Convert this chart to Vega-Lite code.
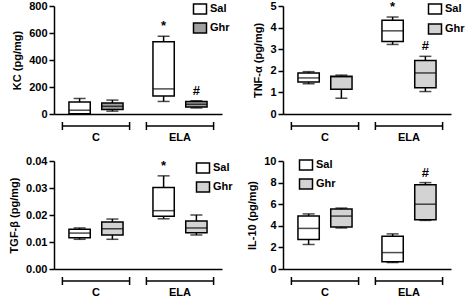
{
  "$schema": "https://vega.github.io/schema/vega-lite/v6.json",
  "background": "white",
  "padding": {"left": 8, "top": 0, "right": 0, "bottom": 0},
  "data": {"values": [
    {"panel": "KC", "group": "C", "treatment": "Sal", "min": 0, "q1": 2, "median": 28, "q3": 88, "max": 115, "sig": ""},
    {"panel": "KC", "group": "C", "treatment": "Ghr", "min": 21, "q1": 33, "median": 57, "q3": 81, "max": 103, "sig": ""},
    {"panel": "KC", "group": "ELA", "treatment": "Sal", "min": 93, "q1": 133, "median": 186, "q3": 536, "max": 576, "sig": "*"},
    {"panel": "KC", "group": "ELA", "treatment": "Ghr", "min": 45, "q1": 52, "median": 72, "q3": 92, "max": 98, "sig": "#"},
    {"panel": "TNF", "group": "C", "treatment": "Sal", "min": 1.4, "q1": 1.48, "median": 1.67, "q3": 1.9, "max": 1.96, "sig": ""},
    {"panel": "TNF", "group": "C", "treatment": "Ghr", "min": 0.73, "q1": 1.15, "median": 1.72, "q3": 1.75, "max": 1.8, "sig": ""},
    {"panel": "TNF", "group": "ELA", "treatment": "Sal", "min": 3.22, "q1": 3.36, "median": 3.85, "q3": 4.34, "max": 4.49, "sig": "*"},
    {"panel": "TNF", "group": "ELA", "treatment": "Ghr", "min": 1.04, "q1": 1.21, "median": 1.9, "q3": 2.48, "max": 2.67, "sig": "#"},
    {"panel": "TGF", "group": "C", "treatment": "Sal", "min": 0.011, "q1": 0.0116, "median": 0.0133, "q3": 0.0147, "max": 0.0152, "sig": ""},
    {"panel": "TGF", "group": "C", "treatment": "Ghr", "min": 0.011, "q1": 0.0126, "median": 0.0149, "q3": 0.0174, "max": 0.0185, "sig": ""},
    {"panel": "TGF", "group": "ELA", "treatment": "Sal", "min": 0.0186, "q1": 0.0195, "median": 0.0216, "q3": 0.0302, "max": 0.0345, "sig": "*"},
    {"panel": "TGF", "group": "ELA", "treatment": "Ghr", "min": 0.0126, "q1": 0.0134, "median": 0.0152, "q3": 0.0178, "max": 0.02, "sig": ""},
    {"panel": "IL10", "group": "C", "treatment": "Sal", "min": 2.27, "q1": 2.72, "median": 3.76, "q3": 4.9, "max": 5.1, "sig": ""},
    {"panel": "IL10", "group": "C", "treatment": "Ghr", "min": 3.8, "q1": 3.9, "median": 4.9, "q3": 5.55, "max": 5.64, "sig": ""},
    {"panel": "IL10", "group": "ELA", "treatment": "Sal", "min": 0.6, "q1": 0.66, "median": 1.52, "q3": 3.04, "max": 3.25, "sig": ""},
    {"panel": "IL10", "group": "ELA", "treatment": "Ghr", "min": 4.5, "q1": 4.57, "median": 6.0, "q3": 7.8, "max": 8.0, "sig": "#"}
  ]},
  "columns": 2,
  "spacing": {"row": 13, "column": 13},
  "resolve": {"scale": {"x": "independent", "y": "independent", "fill": "independent", "xOffset": "independent"}, "legend": {"fill": "independent"}},
  "concat": [
    {
      "width": 168, "height": 108,
      "transform": [{"filter": "datum.panel === 'KC'"}],
      "encoding": {"x": {"field": "group", "type": "nominal", "sort": ["C", "ELA"], "scale": {"paddingInner": 0.2, "paddingOuter": 0.1}, "axis": {"title": null, "ticks": false, "labelPadding": 17, "labelAngle": 0}}},
      "layer": [
        {"mark": {"type": "rule", "strokeWidth": 1.5, "color": "black"}, "encoding": {"xOffset": {"field": "treatment", "type": "nominal", "sort": ["Sal", "Ghr"], "scale": {"paddingInner": 0.35, "paddingOuter": 0.2}}, "y": {"field": "min", "type": "quantitative", "scale": {"domain": [0, 800], "nice": false, "zero": false}, "axis": {"title": "KC (pg/mg)", "values": [0, 200, 400, 600, 800]}}, "y2": {"field": "max"}}},
        {"mark": {"type": "bar", "stroke": "black", "strokeWidth": 1.5}, "encoding": {"xOffset": {"field": "treatment", "type": "nominal", "sort": ["Sal", "Ghr"]}, "y": {"field": "q1", "type": "quantitative", "axis": {"title": "KC (pg/mg)", "values": [0, 200, 400, 600, 800]}}, "y2": {"field": "q3"}, "fill": {"field": "treatment", "type": "nominal", "scale": {"domain": ["Sal", "Ghr"], "range": ["white", "#a0a0a0"]}, "legend": {"orient": "none", "legendX": 140, "legendY": -3, "title": null, "padding": 0, "symbolType": "M-1.3,-1H1.3V1H-1.3Z", "symbolSize": 100, "symbolStrokeColor": "black", "symbolStrokeWidth": 1.5, "labelFontSize": 11, "labelFontWeight": "bold", "labelFont": "Liberation Sans", "labelOffset": 4, "rowPadding": 3}}}},
        {"mark": {"type": "tick", "color": "black", "thickness": 1.5, "size": 21}, "encoding": {"xOffset": {"field": "treatment", "type": "nominal", "sort": ["Sal", "Ghr"]}, "y": {"field": "median", "type": "quantitative", "axis": {"title": "KC (pg/mg)", "values": [0, 200, 400, 600, 800]}}}},
        {"mark": {"type": "tick", "color": "black", "thickness": 1.5, "size": 12}, "encoding": {"xOffset": {"field": "treatment", "type": "nominal", "sort": ["Sal", "Ghr"]}, "y": {"field": "min", "type": "quantitative", "axis": {"title": "KC (pg/mg)", "values": [0, 200, 400, 600, 800]}}}},
        {"mark": {"type": "tick", "color": "black", "thickness": 1.5, "size": 12}, "encoding": {"xOffset": {"field": "treatment", "type": "nominal", "sort": ["Sal", "Ghr"]}, "y": {"field": "max", "type": "quantitative", "axis": {"title": "KC (pg/mg)", "values": [0, 200, 400, 600, 800]}}}},
        {"mark": {"type": "text", "baseline": "bottom", "dy": -3, "fontSize": 13, "fontWeight": "bold", "font": "Liberation Sans", "color": "black"}, "encoding": {"xOffset": {"field": "treatment", "type": "nominal", "sort": ["Sal", "Ghr"]}, "y": {"field": "max", "type": "quantitative", "axis": {"title": "KC (pg/mg)", "values": [0, 200, 400, 600, 800]}}, "text": {"field": "sig"}}},
        {"transform": [{"filter": "datum.treatment === 'Sal'"}], "mark": {"type": "rule", "strokeWidth": 1.5, "color": "black"}, "encoding": {"x": {"field": "group", "type": "nominal", "bandPosition": 0}, "x2": {"field": "group", "bandPosition": 1}, "y": {"datum": -89, "axis": {"title": "KC (pg/mg)", "values": [0, 200, 400, 600, 800]}}}},
        {"transform": [{"filter": "datum.treatment === 'Sal'"}], "mark": {"type": "rule", "strokeWidth": 1.5, "color": "black"}, "encoding": {"x": {"field": "group", "type": "nominal", "bandPosition": 0}, "y": {"datum": -119, "axis": {"title": "KC (pg/mg)", "values": [0, 200, 400, 600, 800]}}, "y2": {"datum": -59}}},
        {"transform": [{"filter": "datum.treatment === 'Sal'"}], "mark": {"type": "rule", "strokeWidth": 1.5, "color": "black"}, "encoding": {"x": {"field": "group", "type": "nominal", "bandPosition": 1}, "y": {"datum": -119, "axis": {"title": "KC (pg/mg)", "values": [0, 200, 400, 600, 800]}}, "y2": {"datum": -59}}}
      ]
    },
    {
      "width": 168, "height": 108,
      "transform": [{"filter": "datum.panel === 'TNF'"}],
      "encoding": {"x": {"field": "group", "type": "nominal", "sort": ["C", "ELA"], "scale": {"paddingInner": 0.2, "paddingOuter": 0.1}, "axis": {"title": null, "ticks": false, "labelPadding": 17, "labelAngle": 0}}},
      "layer": [
        {"mark": {"type": "rule", "strokeWidth": 1.5, "color": "black"}, "encoding": {"xOffset": {"field": "treatment", "type": "nominal", "sort": ["Sal", "Ghr"], "scale": {"paddingInner": 0.35, "paddingOuter": 0.2}}, "y": {"field": "min", "type": "quantitative", "scale": {"domain": [0, 5], "nice": false, "zero": false}, "axis": {"title": "TNF-α (pg/mg)", "values": [0, 1, 2, 3, 4, 5]}}, "y2": {"field": "max"}}},
        {"mark": {"type": "bar", "stroke": "black", "strokeWidth": 1.5}, "encoding": {"xOffset": {"field": "treatment", "type": "nominal", "sort": ["Sal", "Ghr"]}, "y": {"field": "q1", "type": "quantitative", "axis": {"title": "TNF-α (pg/mg)", "values": [0, 1, 2, 3, 4, 5]}}, "y2": {"field": "q3"}, "fill": {"field": "treatment", "type": "nominal", "scale": {"domain": ["Sal", "Ghr"], "range": ["white", "#d3d3d3"]}, "legend": {"orient": "none", "legendX": 146, "legendY": -3, "title": null, "padding": 0, "symbolType": "M-1.3,-1H1.3V1H-1.3Z", "symbolSize": 100, "symbolStrokeColor": "black", "symbolStrokeWidth": 1.5, "labelFontSize": 11, "labelFontWeight": "bold", "labelFont": "Liberation Sans", "labelOffset": 4, "rowPadding": 4}}}},
        {"mark": {"type": "tick", "color": "black", "thickness": 1.5, "size": 21}, "encoding": {"xOffset": {"field": "treatment", "type": "nominal", "sort": ["Sal", "Ghr"]}, "y": {"field": "median", "type": "quantitative", "axis": {"title": "TNF-α (pg/mg)", "values": [0, 1, 2, 3, 4, 5]}}}},
        {"mark": {"type": "tick", "color": "black", "thickness": 1.5, "size": 12}, "encoding": {"xOffset": {"field": "treatment", "type": "nominal", "sort": ["Sal", "Ghr"]}, "y": {"field": "min", "type": "quantitative", "axis": {"title": "TNF-α (pg/mg)", "values": [0, 1, 2, 3, 4, 5]}}}},
        {"mark": {"type": "tick", "color": "black", "thickness": 1.5, "size": 12}, "encoding": {"xOffset": {"field": "treatment", "type": "nominal", "sort": ["Sal", "Ghr"]}, "y": {"field": "max", "type": "quantitative", "axis": {"title": "TNF-α (pg/mg)", "values": [0, 1, 2, 3, 4, 5]}}}},
        {"mark": {"type": "text", "baseline": "bottom", "dy": -3, "fontSize": 13, "fontWeight": "bold", "font": "Liberation Sans", "color": "black"}, "encoding": {"xOffset": {"field": "treatment", "type": "nominal", "sort": ["Sal", "Ghr"]}, "y": {"field": "max", "type": "quantitative", "axis": {"title": "TNF-α (pg/mg)", "values": [0, 1, 2, 3, 4, 5]}}, "text": {"field": "sig"}}},
        {"transform": [{"filter": "datum.treatment === 'Sal'"}], "mark": {"type": "rule", "strokeWidth": 1.5, "color": "black"}, "encoding": {"x": {"field": "group", "type": "nominal", "bandPosition": 0}, "x2": {"field": "group", "bandPosition": 1}, "y": {"datum": -0.56, "axis": {"title": "TNF-α (pg/mg)", "values": [0, 1, 2, 3, 4, 5]}}}},
        {"transform": [{"filter": "datum.treatment === 'Sal'"}], "mark": {"type": "rule", "strokeWidth": 1.5, "color": "black"}, "encoding": {"x": {"field": "group", "type": "nominal", "bandPosition": 0}, "y": {"datum": -0.74, "axis": {"title": "TNF-α (pg/mg)", "values": [0, 1, 2, 3, 4, 5]}}, "y2": {"datum": -0.37}}},
        {"transform": [{"filter": "datum.treatment === 'Sal'"}], "mark": {"type": "rule", "strokeWidth": 1.5, "color": "black"}, "encoding": {"x": {"field": "group", "type": "nominal", "bandPosition": 1}, "y": {"datum": -0.74, "axis": {"title": "TNF-α (pg/mg)", "values": [0, 1, 2, 3, 4, 5]}}, "y2": {"datum": -0.37}}}
      ]
    },
    {
      "width": 168, "height": 108,
      "transform": [{"filter": "datum.panel === 'TGF'"}],
      "encoding": {"x": {"field": "group", "type": "nominal", "sort": ["C", "ELA"], "scale": {"paddingInner": 0.2, "paddingOuter": 0.1}, "axis": {"title": null, "ticks": false, "labelPadding": 17, "labelAngle": 0}}},
      "layer": [
        {"mark": {"type": "rule", "strokeWidth": 1.5, "color": "black"}, "encoding": {"xOffset": {"field": "treatment", "type": "nominal", "sort": ["Sal", "Ghr"], "scale": {"paddingInner": 0.35, "paddingOuter": 0.2}}, "y": {"field": "min", "type": "quantitative", "scale": {"domain": [0, 0.04], "nice": false, "zero": false}, "axis": {"title": "TGF-β (pg/mg)", "values": [0, 0.01, 0.02, 0.03, 0.04], "format": ".2f"}}, "y2": {"field": "max"}}},
        {"mark": {"type": "bar", "stroke": "black", "strokeWidth": 1.5}, "encoding": {"xOffset": {"field": "treatment", "type": "nominal", "sort": ["Sal", "Ghr"]}, "y": {"field": "q1", "type": "quantitative", "axis": {"title": "TGF-β (pg/mg)", "values": [0, 0.01, 0.02, 0.03, 0.04], "format": ".2f"}}, "y2": {"field": "q3"}, "fill": {"field": "treatment", "type": "nominal", "scale": {"domain": ["Sal", "Ghr"], "range": ["white", "#d3d3d3"]}, "legend": {"orient": "none", "legendX": 143, "legendY": 1, "title": null, "padding": 0, "symbolType": "M-1.3,-1H1.3V1H-1.3Z", "symbolSize": 100, "symbolStrokeColor": "black", "symbolStrokeWidth": 1.5, "labelFontSize": 11, "labelFontWeight": "bold", "labelFont": "Liberation Sans", "labelOffset": 4, "rowPadding": 3}}}},
        {"mark": {"type": "tick", "color": "black", "thickness": 1.5, "size": 21}, "encoding": {"xOffset": {"field": "treatment", "type": "nominal", "sort": ["Sal", "Ghr"]}, "y": {"field": "median", "type": "quantitative", "axis": {"title": "TGF-β (pg/mg)", "values": [0, 0.01, 0.02, 0.03, 0.04], "format": ".2f"}}}},
        {"mark": {"type": "tick", "color": "black", "thickness": 1.5, "size": 12}, "encoding": {"xOffset": {"field": "treatment", "type": "nominal", "sort": ["Sal", "Ghr"]}, "y": {"field": "min", "type": "quantitative", "axis": {"title": "TGF-β (pg/mg)", "values": [0, 0.01, 0.02, 0.03, 0.04], "format": ".2f"}}}},
        {"mark": {"type": "tick", "color": "black", "thickness": 1.5, "size": 12}, "encoding": {"xOffset": {"field": "treatment", "type": "nominal", "sort": ["Sal", "Ghr"]}, "y": {"field": "max", "type": "quantitative", "axis": {"title": "TGF-β (pg/mg)", "values": [0, 0.01, 0.02, 0.03, 0.04], "format": ".2f"}}}},
        {"mark": {"type": "text", "baseline": "bottom", "dy": -3, "fontSize": 13, "fontWeight": "bold", "font": "Liberation Sans", "color": "black"}, "encoding": {"xOffset": {"field": "treatment", "type": "nominal", "sort": ["Sal", "Ghr"]}, "y": {"field": "max", "type": "quantitative", "axis": {"title": "TGF-β (pg/mg)", "values": [0, 0.01, 0.02, 0.03, 0.04], "format": ".2f"}}, "text": {"field": "sig"}}},
        {"transform": [{"filter": "datum.treatment === 'Sal'"}], "mark": {"type": "rule", "strokeWidth": 1.5, "color": "black"}, "encoding": {"x": {"field": "group", "type": "nominal", "bandPosition": 0}, "x2": {"field": "group", "bandPosition": 1}, "y": {"datum": -0.00444, "axis": {"title": "TGF-β (pg/mg)", "values": [0, 0.01, 0.02, 0.03, 0.04], "format": ".2f"}}}},
        {"transform": [{"filter": "datum.treatment === 'Sal'"}], "mark": {"type": "rule", "strokeWidth": 1.5, "color": "black"}, "encoding": {"x": {"field": "group", "type": "nominal", "bandPosition": 0}, "y": {"datum": -0.00592, "axis": {"title": "TGF-β (pg/mg)", "values": [0, 0.01, 0.02, 0.03, 0.04], "format": ".2f"}}, "y2": {"datum": -0.00296}}},
        {"transform": [{"filter": "datum.treatment === 'Sal'"}], "mark": {"type": "rule", "strokeWidth": 1.5, "color": "black"}, "encoding": {"x": {"field": "group", "type": "nominal", "bandPosition": 1}, "y": {"datum": -0.00592, "axis": {"title": "TGF-β (pg/mg)", "values": [0, 0.01, 0.02, 0.03, 0.04], "format": ".2f"}}, "y2": {"datum": -0.00296}}}
      ]
    },
    {
      "width": 168, "height": 108,
      "transform": [{"filter": "datum.panel === 'IL10'"}],
      "encoding": {"x": {"field": "group", "type": "nominal", "sort": ["C", "ELA"], "scale": {"paddingInner": 0.2, "paddingOuter": 0.1}, "axis": {"title": null, "ticks": false, "labelPadding": 17, "labelAngle": 0}}},
      "layer": [
        {"mark": {"type": "rule", "strokeWidth": 1.5, "color": "black"}, "encoding": {"xOffset": {"field": "treatment", "type": "nominal", "sort": ["Sal", "Ghr"], "scale": {"paddingInner": 0.35, "paddingOuter": 0.2}}, "y": {"field": "min", "type": "quantitative", "scale": {"domain": [0, 10], "nice": false, "zero": false}, "axis": {"title": "IL-10 (pg/mg)", "values": [0, 2, 4, 6, 8, 10]}}, "y2": {"field": "max"}}},
        {"mark": {"type": "bar", "stroke": "black", "strokeWidth": 1.5}, "encoding": {"xOffset": {"field": "treatment", "type": "nominal", "sort": ["Sal", "Ghr"]}, "y": {"field": "q1", "type": "quantitative", "axis": {"title": "IL-10 (pg/mg)", "values": [0, 2, 4, 6, 8, 10]}}, "y2": {"field": "q3"}, "fill": {"field": "treatment", "type": "nominal", "scale": {"domain": ["Sal", "Ghr"], "range": ["white", "#d3d3d3"]}, "legend": {"orient": "none", "legendX": 17, "legendY": -2, "title": null, "padding": 0, "symbolType": "M-1.3,-1H1.3V1H-1.3Z", "symbolSize": 100, "symbolStrokeColor": "black", "symbolStrokeWidth": 1.5, "labelFontSize": 11, "labelFontWeight": "bold", "labelFont": "Liberation Sans", "labelOffset": 4, "rowPadding": 3}}}},
        {"mark": {"type": "tick", "color": "black", "thickness": 1.5, "size": 21}, "encoding": {"xOffset": {"field": "treatment", "type": "nominal", "sort": ["Sal", "Ghr"]}, "y": {"field": "median", "type": "quantitative", "axis": {"title": "IL-10 (pg/mg)", "values": [0, 2, 4, 6, 8, 10]}}}},
        {"mark": {"type": "tick", "color": "black", "thickness": 1.5, "size": 12}, "encoding": {"xOffset": {"field": "treatment", "type": "nominal", "sort": ["Sal", "Ghr"]}, "y": {"field": "min", "type": "quantitative", "axis": {"title": "IL-10 (pg/mg)", "values": [0, 2, 4, 6, 8, 10]}}}},
        {"mark": {"type": "tick", "color": "black", "thickness": 1.5, "size": 12}, "encoding": {"xOffset": {"field": "treatment", "type": "nominal", "sort": ["Sal", "Ghr"]}, "y": {"field": "max", "type": "quantitative", "axis": {"title": "IL-10 (pg/mg)", "values": [0, 2, 4, 6, 8, 10]}}}},
        {"mark": {"type": "text", "baseline": "bottom", "dy": -3, "fontSize": 13, "fontWeight": "bold", "font": "Liberation Sans", "color": "black"}, "encoding": {"xOffset": {"field": "treatment", "type": "nominal", "sort": ["Sal", "Ghr"]}, "y": {"field": "max", "type": "quantitative", "axis": {"title": "IL-10 (pg/mg)", "values": [0, 2, 4, 6, 8, 10]}}, "text": {"field": "sig"}}},
        {"transform": [{"filter": "datum.treatment === 'Sal'"}], "mark": {"type": "rule", "strokeWidth": 1.5, "color": "black"}, "encoding": {"x": {"field": "group", "type": "nominal", "bandPosition": 0}, "x2": {"field": "group", "bandPosition": 1}, "y": {"datum": -1.11, "axis": {"title": "IL-10 (pg/mg)", "values": [0, 2, 4, 6, 8, 10]}}}},
        {"transform": [{"filter": "datum.treatment === 'Sal'"}], "mark": {"type": "rule", "strokeWidth": 1.5, "color": "black"}, "encoding": {"x": {"field": "group", "type": "nominal", "bandPosition": 0}, "y": {"datum": -1.48, "axis": {"title": "IL-10 (pg/mg)", "values": [0, 2, 4, 6, 8, 10]}}, "y2": {"datum": -0.74}}},
        {"transform": [{"filter": "datum.treatment === 'Sal'"}], "mark": {"type": "rule", "strokeWidth": 1.5, "color": "black"}, "encoding": {"x": {"field": "group", "type": "nominal", "bandPosition": 1}, "y": {"datum": -1.48, "axis": {"title": "IL-10 (pg/mg)", "values": [0, 2, 4, 6, 8, 10]}}, "y2": {"datum": -0.74}}}
      ]
    }
  ],
  "config": {
    "view": {"stroke": null},
    "font": "Liberation Sans",
    "axis": {"grid": false, "domainColor": "black", "domainWidth": 1.5, "tickColor": "black", "tickWidth": 1.5, "tickSize": 5, "labelColor": "black", "labelFont": "Liberation Sans", "labelFontSize": 11, "labelFontWeight": "bold", "labelPadding": 2, "titleColor": "black", "titleFont": "Liberation Sans", "titleFontSize": 11, "titleFontWeight": "bold", "titlePadding": 6},
    "axisY": {"labelOverlap": false},
    "legend": {"labelColor": "black"}
  }
}
